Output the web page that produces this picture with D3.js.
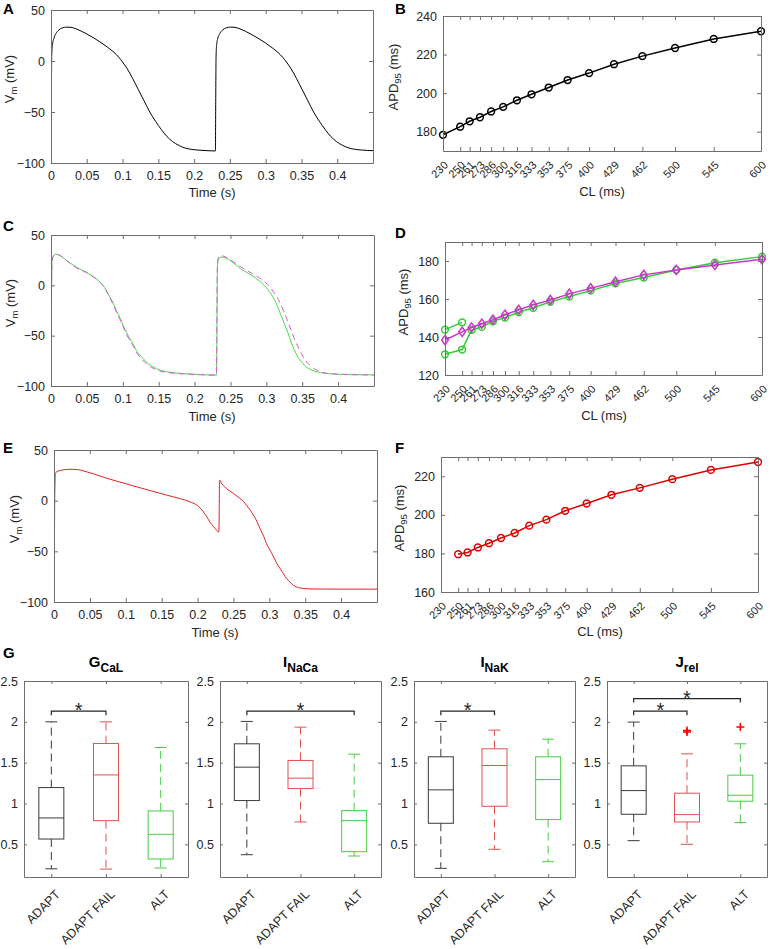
<!DOCTYPE html>
<html><head><meta charset="utf-8">
<script src="https://cdn.jsdelivr.net/npm/d3@7"></script>
<style>body{margin:0;background:#fff}</style>
</head><body><svg id="c" width="770" height="949"></svg>
<script>
// ---------------- DATA ----------------
const timeTicks = [0,0.05,0.1,0.15,0.2,0.25,0.3,0.35,0.4];
const vTicks = [-100,-50,0,50];
const clTicks = [230,250,261,273,286,300,316,333,353,375,400,429,462,500,545,600];

// Panel A: action potential trace [time (s), Vm (mV)]
const traceA = [[0,-88],[0.0005,-40],[0.001,5],[0.002,16],[0.004,22],[0.007,27],[0.011,30.5],[0.016,32.5],[0.022,33.2],[0.028,33],[0.035,31.5],[0.043,29],[0.05,26.5],[0.06,22.5],[0.07,18],[0.08,13],[0.088,8.5],[0.095,3.5],[0.1,-1],[0.106,-7],[0.114,-17],[0.122,-28],[0.13,-39],[0.138,-50],[0.146,-59],[0.154,-67],[0.162,-74],[0.17,-79],[0.178,-82.5],[0.186,-85],[0.195,-86.5],[0.205,-87.3],[0.218,-87.9],[0.2298,-88.2],
 [0.2302,-40],[0.2307,5],[0.2315,16],[0.233,22],[0.236,27],[0.24,30.5],[0.245,32.5],[0.251,33.2],[0.257,33],[0.264,31.5],[0.272,29],[0.279,26.5],[0.289,22.5],[0.299,18],[0.309,13],[0.317,8.5],[0.324,3.5],[0.329,-1],[0.335,-7],[0.343,-17],[0.351,-28],[0.359,-39],[0.367,-50],[0.375,-59],[0.383,-67],[0.391,-74],[0.399,-79],[0.407,-82.5],[0.415,-85],[0.424,-86.5],[0.434,-87.3],[0.45,-87.9]];

// Panel B
const apdB = [178.4,182.6,185.4,187.5,190.5,192.9,196.3,199.4,202.9,206.8,210.4,215,219.2,223.4,228.1,232.1];

// Panel C traces
const traceCgreen = [[0,-89],[0.0005,-40],[0.001,10],[0.0015,24],[0.003,28.5],[0.006,31],[0.01,30.5],[0.015,28.5],[0.021,25],[0.028,21.5],[0.035,18.2],[0.042,15.5],[0.049,13.2],[0.056,10],[0.063,6.6],[0.068,3.5],[0.0725,0],[0.077,-5],[0.082,-11.6],[0.087,-18],[0.091,-24.8],[0.096,-32],[0.1006,-39.7],[0.105,-46.5],[0.11,-53],[0.115,-59],[0.119,-64.6],[0.126,-71],[0.133,-76.2],[0.14,-80],[0.147,-82.8],[0.154,-84.6],[0.161,-85.8],[0.173,-87],[0.185,-87.7],[0.208,-88.7],[0.2305,-89.2],
 [0.231,-60],[0.2315,0],[0.232,20],[0.233,25],[0.236,28],[0.24,27.8],[0.2456,26.5],[0.252,23.5],[0.258,20],[0.264,16.6],[0.27,14],[0.277,11],[0.283,8.3],[0.29,4.5],[0.297,0],[0.302,-4],[0.3064,-8.3],[0.311,-14],[0.316,-21.5],[0.32,-29],[0.325,-38],[0.33,-47],[0.3345,-56.3],[0.339,-64],[0.344,-71.2],[0.349,-76],[0.353,-79.5],[0.36,-83],[0.367,-85.1],[0.376,-86.8],[0.386,-87.7],[0.4,-88.3],[0.419,-88.7],[0.45,-89]];
const traceCmagenta = [[0,-95],[0.0005,-40],[0.001,10],[0.0015,24],[0.003,28.5],[0.006,31],[0.01,30.5],[0.015,28.5],[0.021,25],[0.028,21],[0.035,17.5],[0.042,15],[0.049,12.8],[0.056,9.8],[0.063,6.4],[0.068,3.3],[0.0725,-0.3],[0.077,-5.5],[0.082,-12.5],[0.087,-19.5],[0.091,-26.5],[0.096,-34],[0.1006,-41.5],[0.105,-48.5],[0.11,-55],[0.115,-61],[0.119,-66.5],[0.126,-73],[0.133,-78],[0.14,-81.5],[0.147,-84],[0.154,-85.5],[0.161,-86.5],[0.173,-87.4],[0.185,-88],[0.208,-88.8],[0.2305,-89.2],
 [0.231,-60],[0.2315,0],[0.232,22],[0.233,27],[0.236,29.5],[0.24,29],[0.2456,27.5],[0.252,24.5],[0.258,21.5],[0.264,18.5],[0.27,15.8],[0.277,13],[0.283,10.5],[0.29,7.5],[0.297,4],[0.302,0.5],[0.3064,-3],[0.311,-7.5],[0.316,-13],[0.32,-19],[0.325,-27],[0.33,-36],[0.3345,-44.5],[0.339,-53],[0.344,-61],[0.349,-68],[0.353,-73],[0.36,-79],[0.367,-83],[0.376,-86],[0.386,-87.5],[0.4,-88.3],[0.419,-88.7],[0.45,-89]];

// Panel D
const apdDgreen = [130.9,133.4,143.7,145.3,148.3,150.2,153,155.4,158.5,161.3,164.4,168.2,171.3,175.3,179.1,182.3];
const clDgreenAlt = [230,250];
const apdDgreenAlt = [143.9,147.7];
const apdDmagenta = [138.4,142.7,145,147,149.1,151.7,154.3,156.9,159.5,162.7,165.6,169.1,172.7,175.3,177.9,180.9];

// Panel E trace
const traceE = [[0,-100],[0.0005,-50],[0.001,0],[0.0015,20],[0.002,27],[0.004,28.6],[0.008,29.6],[0.017,30.8],[0.024,31],[0.031,30.8],[0.038,30],[0.045,28.6],[0.055,26.5],[0.064,24.3],[0.075,21.8],[0.087,19.3],[0.1,16.8],[0.11,14.7],[0.122,12.3],[0.133,10.1],[0.145,7.8],[0.157,5.5],[0.166,3.8],[0.175,2.2],[0.182,0.8],[0.189,-1.1],[0.195,-2.8],[0.199,-4.4],[0.204,-7.5],[0.208,-11],[0.213,-16],[0.217,-20.9],[0.222,-25.5],[0.226,-28.8],[0.2295,-31],[0.2302,-10],[0.2305,20],[0.2312,20.3],[0.2335,17],[0.237,14.3],[0.24,12.1],[0.245,9.5],[0.25,7.1],[0.255,4.5],[0.259,2.2],[0.264,-0.8],[0.268,-4.4],[0.273,-9],[0.278,-14.3],[0.283,-21],[0.287,-27.5],[0.292,-35],[0.296,-42.3],[0.301,-49],[0.306,-55.5],[0.31,-61.5],[0.315,-67],[0.32,-72.5],[0.324,-76.9],[0.329,-80.5],[0.3335,-83.5],[0.338,-85.2],[0.343,-86.2],[0.35,-86.8],[0.366,-87.2],[0.4,-87.3],[0.45,-87.3]];

// Panel F
const clF = [250,261,273,286,300,316,333,353,375,400,429,462,500,545,600];
const apdF = [179.6,180.5,183.1,185.3,188,190.6,194.4,197.5,202.1,205.9,210.4,214,218.5,223.3,227.4];

// Panel G boxplots: [lowWhisker, Q1, median, Q3, highWhisker]
const groups = ["ADAPT","ADAPT FAIL","ALT"];
const boxTicks = [0.5,1,1.5,2,2.5];
const boxGCaL  = [[0.20,0.565,0.823,1.195,2.0],[0.197,0.79,1.35,1.735,2.0],[0.21,0.32,0.623,0.909,1.686]];
const boxINaCa = [[0.373,1.036,1.445,1.731,2.005],[0.774,1.183,1.31,1.527,1.935],[0.357,0.41,0.79,0.913,1.604]];
const boxINaK  = [[0.206,0.758,1.167,1.572,2.005],[0.439,0.966,1.465,1.67,1.899],[0.287,0.803,1.293,1.572,1.788]];
const boxJrel  = [[0.545,0.868,1.158,1.461,1.997],[0.5,0.774,0.864,1.126,1.608],[0.766,1.028,1.101,1.347,1.731]];
const outJrel  = [["ADAPT FAIL",1.895],["ADAPT FAIL",1.874],["ALT",1.936]];
// significance brackets: [from, to, level]
const sigGCaL  = [["ADAPT","ADAPT FAIL",2.13]];
const sigINaCa = [["ADAPT","ALT",2.13]];
const sigINaK  = [["ADAPT","ADAPT FAIL",2.13]];
const sigJrel  = [["ADAPT","ADAPT FAIL",2.13],["ADAPT","ALT",2.285]];

// ---------------- DRAWING ----------------
const FONT = '"Liberation Sans", Arial, Helvetica, sans-serif';
const TXT = '#262626', FRAME = '#6e6e6e';
const svg = d3.select('#c');
svg.append('rect').attr('width',770).attr('height',949).attr('fill','#fff');

function frameAxes(x, y, o) {
  const g = svg.append('g');
  const [xa,xb] = x.range(), [ya,yb] = y.range();
  const TL = o.tl || 4;
  const gb = g.append('g').attr('transform',`translate(0,${ya})`)
    .call(d3.axisBottom(x).tickValues(o.xt).tickSize(-TL).tickSizeOuter(0).tickPadding(o.xpad ?? 8).tickFormat(o.xf));
  g.append('g').attr('transform',`translate(0,${yb})`)
    .call(d3.axisTop(x).tickValues(o.xt).tickSize(-TL).tickSizeOuter(0).tickFormat(''));
  g.append('g').attr('transform',`translate(${xa},0)`)
    .call(d3.axisLeft(y).tickValues(o.yt).tickSize(-TL).tickSizeOuter(0).tickPadding(6).tickFormat(o.yf));
  g.append('g').attr('transform',`translate(${xb},0)`)
    .call(d3.axisRight(y).tickValues(o.yt).tickSize(-TL).tickSizeOuter(0).tickFormat(''));
  g.selectAll('.domain').attr('stroke',FRAME);
  g.selectAll('.tick line').attr('stroke',FRAME);
  g.selectAll('text').attr('font-size',12.5).attr('fill',TXT).attr('font-family',FONT);
  if (o.rot) {
    gb.selectAll('.tick text').attr('x',0).attr('y',0).attr('dy','0.35em').attr('font-size',o.rot[2])
      .attr('text-anchor','end').attr('transform',`translate(${o.rot[0]},${o.rot[1]}) rotate(-45)`);
  }
  return g;
}
function yLabel(bx, cy, main, sub, rest) {
  const t = svg.append('text').attr('transform',`translate(${bx},${cy}) rotate(-90)`)
    .attr('text-anchor','middle').attr('font-family',FONT).attr('font-size',13).attr('fill',TXT);
  t.append('tspan').text(main);
  t.append('tspan').attr('font-size',9.5).attr('dy',3).text(sub);
  t.append('tspan').attr('dy',-3).text(rest);
}
function xLabel(cx, by, s) {
  svg.append('text').attr('x',cx).attr('y',by).attr('text-anchor','middle')
    .attr('font-family',FONT).attr('font-size',13).attr('fill',TXT).text(s);
}
function letter(x, y, s) {
  svg.append('text').attr('x',x).attr('y',y).attr('font-family',FONT).attr('font-size',15)
    .attr('font-weight','bold').attr('fill','#000').text(s);
}
const tFmt = d => d === 0 ? '0' : String(+d.toFixed(2));
const line = (x,y) => d3.line().x(d=>x(d[0])).y(d=>y(d[1])).curve(d3.curveMonotoneX);

// ---- trace panel
function tracePanel(xr, yr, traces) {
  const x = d3.scaleLinear().domain([0,0.45]).range(xr);
  const y = d3.scaleLinear().domain([-100,50]).range(yr);
  const clipId = 'clip'+Math.round(xr[0])+'_'+Math.round(yr[1]);
  svg.append('clipPath').attr('id',clipId).append('rect')
    .attr('x',xr[0]).attr('y',yr[1]).attr('width',xr[1]-xr[0]).attr('height',yr[0]-yr[1]);
  const g = svg.append('g').attr('clip-path',`url(#${clipId})`);
  traces.forEach(tr => {
    g.append('path').datum(tr.data).attr('d',line(x,y)).attr('fill','none')
      .attr('stroke',tr.color).attr('stroke-width',tr.w||1).attr('stroke-dasharray',tr.dash||null);
  });
  frameAxes(x, y, {xt:timeTicks, yt:vTicks, xf:tFmt, yf:d3.format('d')});
}
// ---- APD panel
function apdPanel(xr, yr, ydom, yt, series) {
  const x = d3.scaleLinear().domain([230,600]).range(xr);
  const y = d3.scaleLinear().domain(ydom).range(yr);
  const g = svg.append('g');
  series.forEach(s => {
    const pts = s.cl.map((c,i)=>[c, s.v[i]]);
    g.append('path').datum(pts).attr('d',d3.line().x(d=>x(d[0])).y(d=>y(d[1])))
      .attr('fill','none').attr('stroke',s.color).attr('stroke-width',1.5);
    if (s.marker === 'o') {
      g.selectAll(null).data(pts).enter().append('circle')
        .attr('cx',d=>x(d[0])).attr('cy',d=>y(d[1])).attr('r',3.4)
        .attr('fill','none').attr('stroke',s.color).attr('stroke-width',1.5);
    } else {
      g.selectAll(null).data(pts).enter().append('path')
        .attr('d','M0,-4.6L3.4,0L0,4.6L-3.4,0Z')
        .attr('transform',d=>`translate(${x(d[0])},${y(d[1])})`)
        .attr('fill','none').attr('stroke',s.color).attr('stroke-width',1.5);
    }
  });
  frameAxes(x, y, {xt:clTicks, yt:yt, xf:d3.format('d'), yf:d3.format('d'), rot:[2.5,12,11]});
}

// A
tracePanel([51,373],[163,10],[{data:traceA,color:'#000'}]);
yLabel(14,79,'V','m',' (mV)'); xLabel(212,197,'Time (s)'); letter(3,14,'A');
// B
apdPanel([443,761],[151,16],[170,240],[180,200,220,240],
  [{cl:clTicks, v:apdB, color:'#000', marker:'o'}]);
yLabel(398,77,'APD','95',' (ms)'); xLabel(602,196,'CL (ms)'); letter(395,14,'B');
// C
tracePanel([51,374],[386,235],[
  {data:traceCgreen,color:'#44dd44'},
  {data:traceCmagenta,color:'#e055e0',dash:'6,4'}]);
yLabel(15,303,'V','m',' (mV)'); xLabel(212,421,'Time (s)'); letter(3,231,'C');
// D
apdPanel([445,762],[375,242],[120,190],[120,140,160,180],[
  {cl:clDgreenAlt, v:apdDgreenAlt, color:'#33cc33', marker:'o'},
  {cl:clTicks, v:apdDgreen, color:'#33cc33', marker:'o'},
  {cl:clTicks, v:apdDmagenta, color:'#cc33cc', marker:'d'}]);
yLabel(408,302,'APD','95',' (ms)'); xLabel(604,420,'CL (ms)'); letter(395,238,'D');
// E
tracePanel([54,377],[602,450],[{data:traceE,color:'#dd2222'}]);
yLabel(19,519,'V','m',' (mV)'); xLabel(215,637,'Time (s)'); letter(3,453,'E');
// F
apdPanel([441,758],[592,457],[160,230],[160,180,200,220],
  [{cl:clF, v:apdF, color:'#dd0000', marker:'o'}]);
yLabel(404,518,'APD','95',' (ms)'); xLabel(600,636,'CL (ms)'); letter(395,453,'F');

// G boxplots
const boxColors = {"ADAPT":'#3a3a3a',"ADAPT FAIL":'#e05252',"ALT":'#44cc44'};
function boxPanel(xr, main, sub, stats, outs, sigs) {
  const x = d3.scalePoint().domain(groups).range(xr).padding(0.5);
  const y = d3.scaleLinear().domain([0.1,2.5]).range([877,681]);
  const g = svg.append('g');
  const BW = 25, CW = 12;
  stats.forEach((s,i) => {
    const c = boxColors[groups[i]], cx = x(groups[i]);
    const [lo,q1,md,q3,hi] = s;
    g.append('line').attr('x1',cx).attr('x2',cx).attr('y1',y(q3)).attr('y2',y(hi))
      .attr('stroke',c).attr('stroke-dasharray','8,5');
    g.append('line').attr('x1',cx).attr('x2',cx).attr('y1',y(q1)).attr('y2',y(lo))
      .attr('stroke',c).attr('stroke-dasharray','8,5');
    [lo,hi].forEach(v => g.append('line').attr('x1',cx-CW/2).attr('x2',cx+CW/2)
      .attr('y1',y(v)).attr('y2',y(v)).attr('stroke',c));
    g.append('rect').attr('x',cx-BW/2).attr('width',BW).attr('y',y(q3)).attr('height',y(q1)-y(q3))
      .attr('fill','none').attr('stroke',c);
    g.append('line').attr('x1',cx-BW/2).attr('x2',cx+BW/2).attr('y1',y(md)).attr('y2',y(md)).attr('stroke',c);
  });
  (outs||[]).forEach(o => {
    const px = x(o[0]), py = y(o[1]);
    g.append('path').attr('d',`M${px-4},${py}h8M${px},${py-4}v8`).attr('stroke','#ff0000').attr('stroke-width',1.5);
  });
  sigs.forEach(s => {
    const x1 = x(s[0]), x2 = x(s[1]), yy = y(s[2]);
    g.append('path').attr('d',`M${x1},${yy+4}V${yy}H${x2}V${yy+4}`).attr('fill','none').attr('stroke',TXT).attr('stroke-width',1.2);
    g.append('text').attr('x',(x1+x2)/2).attr('y',yy+6).attr('text-anchor','middle')
      .attr('font-family',FONT).attr('font-size',20).attr('fill',TXT).text('*');
  });
  frameAxes(x, y, {xt:groups, yt:boxTicks, xf:d=>d, yf:d=>String(d), rot:[6,15,12.5], tl:3});
  const t = svg.append('text').attr('x',(xr[0]+xr[1])/2).attr('y',667).attr('text-anchor','middle')
    .attr('font-family',FONT).attr('font-weight','bold').attr('fill','#000');
  t.append('tspan').attr('font-size',15).text(main);
  t.append('tspan').attr('font-size',12).attr('dy',5).text(sub);
}
boxPanel([24,188],'G','CaL',boxGCaL,null,sigGCaL);
boxPanel([220,381],'I','NaCa',boxINaCa,null,sigINaCa);
boxPanel([414,575],'I','NaK',boxINaK,null,sigINaK);
boxPanel([607,767],'J','rel',boxJrel,outJrel,sigJrel);
letter(3,658,'G');
</script></body></html>
